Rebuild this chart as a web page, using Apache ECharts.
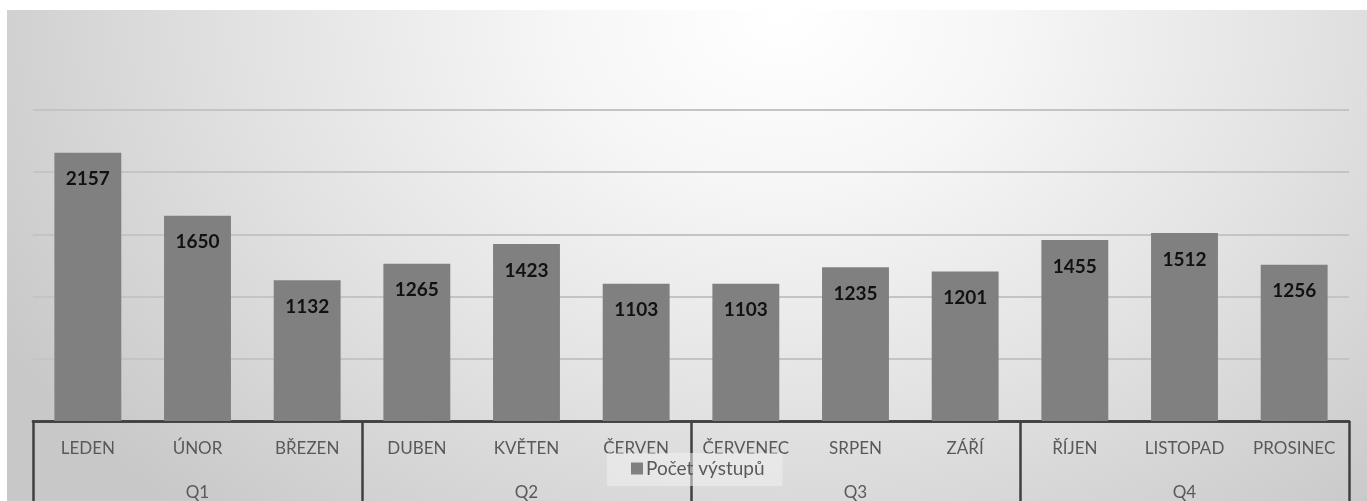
<!DOCTYPE html>
<html>
<head>
<meta charset="utf-8">
<script src="https://cdn.jsdelivr.net/npm/echarts@6/dist/echarts.min.js"></script>
<style>
html,body{margin:0;padding:0;background:#ffffff;width:1367px;height:501px;overflow:hidden;}
#chart{position:absolute;left:7px;top:10px;width:1360px;height:491px;
background:radial-gradient(ellipse 66% 135% at 57% 2%, #ffffff 0%, #f6f6f6 25%, #e3e3e3 58%, #c8c8c8 100%);}
</style>
</head>
<body>
<div id="chart"></div>
<script>
const months = ['LEDEN','ÚNOR','BŘEZEN','DUBEN','KVĚTEN','ČERVEN','ČERVENEC','SRPEN','ZÁŘÍ','ŘÍJEN','LISTOPAD','PROSINEC'];
const quarters = ['Q1','Q2','Q3','Q4'];
const values = [2157,1650,1132,1265,1423,1103,1103,1235,1201,1455,1512,1256];
const seriesName = 'Počet výstupů';

const chart = echarts.init(document.getElementById('chart'), null, {renderer:'canvas'});
const font = 'Lato, "Open Sans", sans-serif';
chart.setOption({
  backgroundColor: 'transparent',
  animation: false,
  grid: {left: 26, right: 18, top: 100, bottom: 80},
  legend: {
    data: [seriesName],
    left: 600,
    top: 443,
    itemWidth: 12, itemHeight: 12, itemGap: 4,
    icon: 'rect',
    padding: [6, 18, 8, 24],
    backgroundColor: 'rgba(240,240,240,0.55)',
    textStyle: {color: '#595959', fontSize: 19, fontFamily: font, padding: [0,0,0,-2]}
  },
  xAxis: [
    {
      type: 'category', data: months, position: 'bottom',
      axisLine: {show: true, lineStyle: {color: '#404040', width: 2.5}},
      axisTick: {show: false},
      axisLabel: {color: '#595959', fontSize: 17, fontFamily: font, margin: 19, interval: 0}
    },
    {
      type: 'category', data: quarters, position: 'bottom', offset: 0,
      axisLine: {show: true, lineStyle: {color: '#404040', width: 2.5}},
      axisTick: {show: true, length: 82, alignWithLabel: false, lineStyle: {color: '#404040', width: 2.5}},
      axisLabel: {color: '#595959', fontSize: 17, fontFamily: font, margin: 63, interval: 0}
    }
  ],
  yAxis: {
    type: 'value', min: 0, max: 2500, interval: 500,
    axisLine: {show: false}, axisTick: {show: false}, axisLabel: {show: false},
    splitLine: {show: true, lineStyle: {color: '#c4c4c4', width: 2}}
  },
  series: [{
    name: seriesName, type: 'bar', xAxisIndex: 0, data: values,
    barCategoryGap: '39%',
    itemStyle: {color: '#808080'},
    label: {show: true, position: 'insideTop', distance: 17, color: '#111111',
      fontWeight: 'bold', fontSize: 19, fontFamily: font}
  }]
});
</script>
</body>
</html>
